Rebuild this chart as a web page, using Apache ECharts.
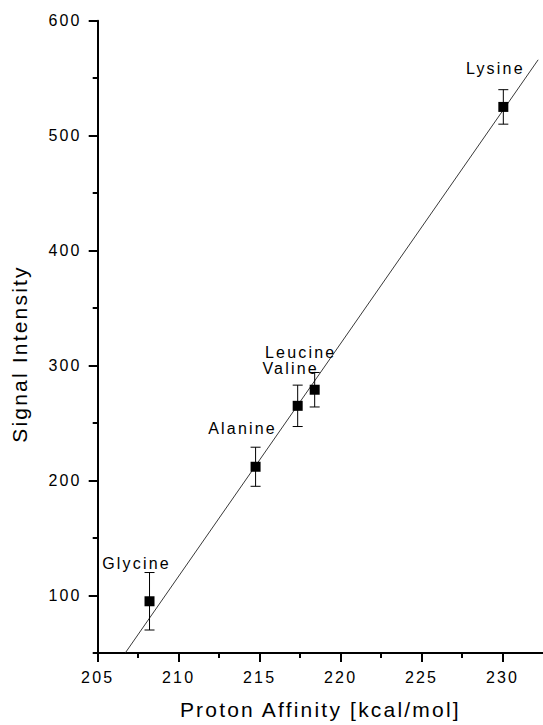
<!DOCTYPE html>
<html>
<head>
<meta charset="utf-8">
<script src="https://cdn.jsdelivr.net/npm/echarts@6/dist/echarts.min.js"></script>
<style>
  html, body { margin: 0; padding: 0; background: #fff; }
  #chart { width: 543px; height: 725px; }
  #chart text { letter-spacing: 2.2px; }
</style>
</head>
<body>
<div id="chart"></div>
<script>
// Amino acids: proton affinity vs. measured signal intensity
const aminoAcids = ['Glycine', 'Alanine', 'Valine', 'Leucine', 'Lysine'];
const protonAffinity = [208.2, 214.75, 217.35, 218.4, 230.05];
const signalIntensity = [95, 212, 265, 279, 525];
const signalError = [25, 17, 18, 15, 15];

// Linear fit endpoints
const fitX = [206.7, 232.2];
const fitY = [50, 566];

// Axis ticks
const xMajorTicks = [205, 210, 215, 220, 225, 230];
const xMinorTicks = [207.5, 212.5, 217.5, 222.5, 227.5];
const yMajorTicks = [100, 200, 300, 400, 500, 600];
const yMinorTicks = [50, 150, 250, 350, 450, 550];

// Label placement relative to each marker
const labelOffsets = [[-13, -38], [-13, -38], [-7, -37], [-14, -37], [-8, -38]];

const FONT = "'Liberation Sans', Arial, Helvetica, sans-serif";
const INK = '#000';

const points = aminoAcids.map((name, i) => ({
  name: name,
  value: [protonAffinity[i], signalIntensity[i]],
  label: { offset: labelOffsets[i] }
}));
const errorData = aminoAcids.map((_, i) => [
  protonAffinity[i], signalIntensity[i] - signalError[i], signalIntensity[i] + signalError[i]
]);
const fitData = fitX.map((x, i) => [x, fitY[i]]);

const chart = echarts.init(document.getElementById('chart'), null, { renderer: 'svg' });

const grid = { left: 97.7, top: 20.7, width: 447.7, height: 635.8 };

chart.setOption({
  animation: false,
  backgroundColor: '#fff',
  textStyle: { fontFamily: FONT, color: INK },
  grid: grid,
  xAxis: [
    {
      type: 'value', min: 205, max: 232.5, position: 'bottom',
      axisLine: { show: true, lineStyle: { color: INK, width: 2 } },
      axisTick: { show: true, inside: false, length: 9, lineStyle: { color: INK, width: 2 }, customValues: xMajorTicks },
      axisLabel: { show: true, customValues: xMajorTicks, margin: 16, fontSize: 16, color: INK, fontFamily: FONT },
      splitLine: { show: false },
      name: 'Proton Affinity [kcal/mol]', nameLocation: 'middle', nameGap: 46,
      nameTextStyle: { fontSize: 21, color: INK, fontFamily: FONT }
    },
    {
      type: 'value', min: 205, max: 232.5, position: 'bottom',
      axisLine: { show: false },
      axisTick: { show: true, inside: false, length: 5, lineStyle: { color: INK, width: 2 }, customValues: xMinorTicks },
      axisLabel: { show: false },
      splitLine: { show: false }
    }
  ],
  yAxis: [
    {
      type: 'value', min: 50, max: 600, position: 'left',
      axisLine: { show: true, lineStyle: { color: INK, width: 2 } },
      axisTick: { show: true, inside: false, length: 9, lineStyle: { color: INK, width: 2 }, customValues: yMajorTicks },
      axisLabel: { show: true, customValues: yMajorTicks, margin: 16, fontSize: 16, color: INK, fontFamily: FONT },
      splitLine: { show: false }
    },
    {
      type: 'value', min: 50, max: 600, position: 'left',
      axisLine: { show: false },
      axisTick: { show: true, inside: false, length: 5, lineStyle: { color: INK, width: 2 }, customValues: yMinorTicks },
      axisLabel: { show: false },
      splitLine: { show: false }
    }
  ],
  graphic: [
    {
      type: 'text', x: 19, y: 354, rotation: Math.PI / 2,
      style: { text: 'Signal Intensity', fontSize: 21, fontFamily: FONT, fill: INK, textAlign: 'center', textVerticalAlign: 'middle' }
    }
  ],
  series: [
    {
      type: 'line', xAxisIndex: 0, yAxisIndex: 0, data: fitData,
      showSymbol: false, symbol: 'none', silent: true,
      lineStyle: { color: '#222', width: 0.9 }, z: 2
    },
    {
      type: 'custom', xAxisIndex: 0, yAxisIndex: 0, data: errorData, z: 3,
      renderItem: function (params, api) {
        const x = api.value(0);
        const lo = api.coord([x, api.value(1)]);
        const hi = api.coord([x, api.value(2)]);
        const half = 5;
        const style = { stroke: INK, lineWidth: 1 };
        return {
          type: 'group',
          children: [
            { type: 'line', shape: { x1: lo[0], y1: lo[1], x2: hi[0], y2: hi[1] }, style: style },
            { type: 'line', shape: { x1: lo[0] - half, y1: lo[1], x2: lo[0] + half, y2: lo[1] }, style: style },
            { type: 'line', shape: { x1: hi[0] - half, y1: hi[1], x2: hi[0] + half, y2: hi[1] }, style: style }
          ]
        };
      }
    },
    {
      type: 'scatter', xAxisIndex: 0, yAxisIndex: 0, data: points, z: 4,
      symbol: 'rect', symbolSize: 10,
      itemStyle: { color: INK, opacity: 1 },
      label: {
        show: true, position: 'inside', formatter: '{b}',
        fontSize: 16, color: INK, opacity: 1, fontFamily: FONT
      }
    }
  ]
});
</script>
</body>
</html>
